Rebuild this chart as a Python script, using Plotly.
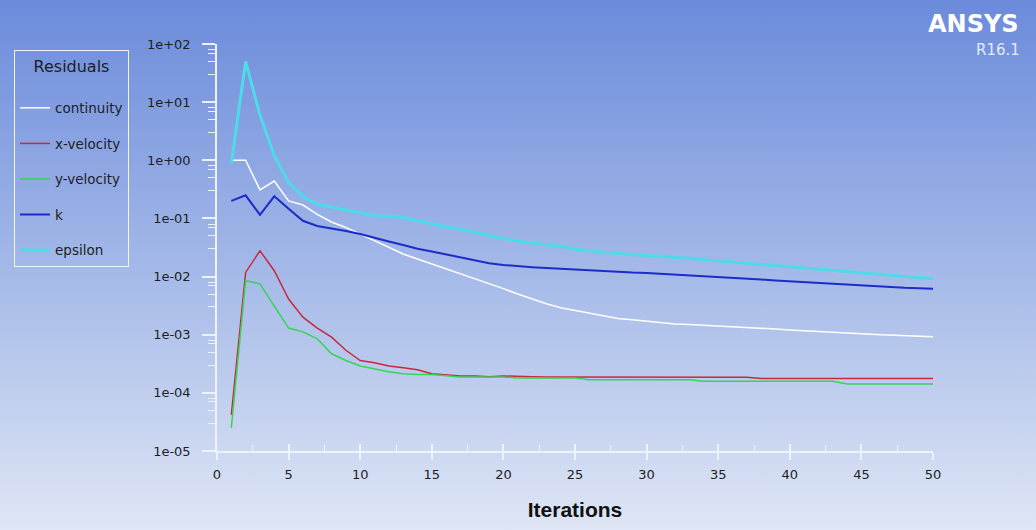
import base64
import plotly.graph_objects as go

# ---------------- data ----------------
iterations = list(range(1, 51))

continuity = [1.0, 1.0, 0.31, 0.44, 0.20, 0.17, 0.117, 0.087, 0.070, 0.054,
              0.041, 0.032, 0.0245, 0.020, 0.0165, 0.0135, 0.011, 0.009, 0.0075, 0.0062,
              0.0050, 0.0041, 0.0034, 0.0029, 0.0026, 0.0023, 0.0021, 0.0019, 0.0018, 0.0017,
              0.0016, 0.00153, 0.0015, 0.00146, 0.00142, 0.00138, 0.00134, 0.0013, 0.00125, 0.0012,
              0.00116, 0.00112, 0.00109, 0.00106, 0.00104, 0.00101, 0.00098, 0.00096, 0.00094, 0.00092]

x_velocity = [4.2e-5, 0.0118, 0.0278, 0.0126, 0.0041, 0.0020, 0.0013, 0.00091, 0.00054, 0.00036,
              0.00033, 0.00029, 0.00027, 0.00025, 0.000214, 0.000207, 0.000195, 0.000195, 0.00019, 0.000195,
              0.00019, 0.00019, 0.000188, 0.000188, 0.000188, 0.000188, 0.000188, 0.000188, 0.000188, 0.000188,
              0.000188, 0.000188, 0.000188, 0.000187, 0.000187, 0.000187, 0.000186, 0.000177, 0.000177, 0.000177,
              0.000177, 0.000177, 0.000177, 0.000177, 0.000177, 0.000177, 0.000177, 0.000177, 0.000177, 0.000177]

y_velocity = [2.5e-5, 0.0085, 0.0075, 0.0032, 0.0013, 0.00112, 0.00085, 0.00047, 0.00036, 0.00029,
              0.00026, 0.00023, 0.000214, 0.000207, 0.000207, 0.000195, 0.000188, 0.000188, 0.000188, 0.000188,
              0.00018, 0.00018, 0.00018, 0.00018, 0.00018, 0.000168, 0.000168, 0.000168, 0.000168, 0.000168,
              0.000168, 0.000168, 0.000168, 0.000158, 0.000158, 0.000158, 0.000158, 0.000158, 0.000158, 0.000158,
              0.000158, 0.000158, 0.000158, 0.000142, 0.000142, 0.000142, 0.000142, 0.000142, 0.000142, 0.000142]

k_res = [0.20, 0.25, 0.115, 0.24, 0.147, 0.091, 0.074, 0.068, 0.061, 0.054,
         0.046, 0.040, 0.035, 0.030, 0.027, 0.024, 0.0214, 0.0186, 0.017, 0.0158,
         0.015, 0.0145, 0.014, 0.0136, 0.013, 0.0125, 0.0122, 0.0119, 0.0117, 0.0115,
         0.0111, 0.0108, 0.0104, 0.0101, 0.0098, 0.0095, 0.0092, 0.0089, 0.0086, 0.0083,
         0.0080, 0.0077, 0.0075, 0.0072, 0.0070, 0.0068, 0.0066, 0.0064, 0.0063, 0.0062]

epsilon = [0.88, 50.0, 6.0, 1.2, 0.41, 0.24, 0.175, 0.155, 0.14, 0.126,
           0.11, 0.11, 0.103, 0.091, 0.080, 0.072, 0.065, 0.057, 0.050, 0.045,
           0.041, 0.038, 0.035, 0.033, 0.0296, 0.028, 0.026, 0.025, 0.024, 0.0234,
           0.0224, 0.0214, 0.0204, 0.0195, 0.0186, 0.0178, 0.017, 0.0163, 0.0156, 0.015,
           0.0143, 0.0136, 0.013, 0.0124, 0.0118, 0.0112, 0.0107, 0.0102, 0.0097, 0.0092]

series_names = ["continuity", "x-velocity", "y-velocity", "k", "epsilon"]
series_values = [continuity, x_velocity, y_velocity, k_res, epsilon]
series_colors = ["#ffffff", "#c8283e", "#36d456", "#1c2cc8", "#4ddbea"]
series_widths = [1.5, 1.5, 1.5, 2, 3]

y_tick_vals = [1e-5, 1e-4, 1e-3, 1e-2, 1e-1, 1e0, 1e1, 1e2]
y_tick_text = ["1e-05", "1e-04", "1e-03", "1e-02", "1e-01", "1e+00", "1e+01", "1e+02"]
x_tick_vals = [0, 5, 10, 15, 20, 25, 30, 35, 40, 45, 50]
x_minor_vals = [2.5, 7.5, 12.5, 17.5, 22.5, 27.5, 32.5, 37.5, 42.5, 47.5]
y_minor_mult = [3, 5, 7, 8]

# ---------------- layout geometry ----------------
W, H = 1036, 530
ML, MR, MT, MB = 217, 103, 44, 77
PW, PH = W - ML - MR, H - MT - MB

AXIS_COLOR = "#eef2fb"
TEXT_COLOR = "#1e1e1e"
TICK_FONT = dict(family="DejaVu Sans", size=13, color=TEXT_COLOR)

fig = go.Figure()
for name, vals, col, w in zip(series_names, series_values, series_colors, series_widths):
    fig.add_trace(go.Scatter(x=iterations, y=vals, mode="lines", name=name,
                             legendgroup=name,
                             line=dict(color=col, width=w)))

# invisible trace to carry the overlay axis (inside half of the crossing x ticks)
fig.add_trace(go.Scatter(x=[None], y=[None], xaxis="x2", showlegend=False,
                         hoverinfo="skip", mode="lines"))

y_minor_vals = []
for e in range(-5, 2):
    for m in y_minor_mult:
        y_minor_vals.append(m * 10 ** e)

# gradient background as an SVG image
svg = ('<svg xmlns="http://www.w3.org/2000/svg" width="10" height="100" '
       'preserveAspectRatio="none"><defs><linearGradient id="g" x1="0" y1="0" x2="0" y2="1">'
       '<stop offset="0" stop-color="#6a8adb"/><stop offset="0.5" stop-color="#a3b8e8"/>'
       '<stop offset="1" stop-color="#dfe6f5"/></linearGradient></defs>'
       '<rect width="10" height="100" fill="url(#g)"/></svg>')
src = "data:image/svg+xml;base64," + base64.b64encode(svg.encode()).decode()

PAD = 4
fig.update_layout(
    width=W, height=H,
    margin=dict(l=ML, r=MR, t=MT, b=MB, pad=0),
    paper_bgcolor="#dfe6f5",
    plot_bgcolor="rgba(0,0,0,0)",
    images=[dict(source=src, xref="paper", yref="paper",
                 x=-(ML + PAD) / PW, y=1 + (MT + PAD) / PH,
                 sizex=(W + 2 * PAD) / PW, sizey=(H + 2 * PAD) / PH,
                 xanchor="left", yanchor="top", sizing="stretch", layer="below")],
    showlegend=True,
    legend=dict(
        x=(14 - ML) / PW, y=1 - (50 - MT) / PH, xanchor="left", yanchor="top",
        bgcolor="rgba(0,0,0,0)", bordercolor="#f2f5fc", borderwidth=1,
        font=dict(family="DejaVu Sans", size=13.5, color=TEXT_COLOR),
        title=dict(text="Residuals<br> ", side="top center",
                   font=dict(family="DejaVu Sans", size=16, color=TEXT_COLOR)),
        tracegroupgap=15, traceorder="grouped",
        itemwidth=30,
    ),
    xaxis=dict(
        range=[0, 50], showgrid=False, zeroline=False,
        showline=True, linecolor=AXIS_COLOR, linewidth=1.5,
        tickmode="array", tickvals=x_tick_vals,
        ticks="outside", ticklen=7, tickwidth=1.5, tickcolor=AXIS_COLOR,
        tickfont=TICK_FONT, ticklabelstandoff=4,
        minor=dict(tickmode="array", tickvals=x_minor_vals, ticks="inside",
                   ticklen=6, tickwidth=1, tickcolor=AXIS_COLOR, showgrid=False),
        title=dict(text="Iterations", standoff=21,
                   font=dict(family="Liberation Sans", size=21, color="#111111", weight="bold")),
    ),
    xaxis2=dict(
        range=[0, 50], overlaying="x", side="bottom", showgrid=False, zeroline=False,
        showline=False, tickmode="array", tickvals=x_tick_vals, ticks="inside",
        ticklen=7, tickwidth=1.5, tickcolor=AXIS_COLOR, showticklabels=False,
    ),
    yaxis=dict(
        type="log", range=[-5, 2], showgrid=False, zeroline=False,
        showline=True, linecolor=AXIS_COLOR, linewidth=1.5,
        tickmode="array", tickvals=y_tick_vals, ticktext=y_tick_text,
        ticks="outside", ticklen=13, tickwidth=1.5, tickcolor=AXIS_COLOR,
        tickfont=TICK_FONT, ticklabelstandoff=9,
        minor=dict(tickmode="array", tickvals=y_minor_vals, ticks="outside",
                   ticklen=7, tickwidth=1, tickcolor=AXIS_COLOR, showgrid=False),
    ),
    annotations=[
        dict(text="<b>ANSYS</b>", xref="paper", yref="paper",
             x=(1020 - ML) / PW, y=1 - (24 - MT) / PH, xanchor="right", yanchor="middle",
             showarrow=False, borderpad=0,
             font=dict(family="DejaVu Sans", size=24, color="#ffffff")),
        dict(text="R16.1", xref="paper", yref="paper",
             x=(1021 - ML) / PW, y=1 - (50 - MT) / PH, xanchor="right", yanchor="middle",
             showarrow=False, borderpad=0,
             font=dict(family="DejaVu Sans", size=15, color="#e4eafa")),
    ],
)

fig.write_html("out.html", config={"displayModeBar": False},
               post_script="document.body.style.margin='0';")
